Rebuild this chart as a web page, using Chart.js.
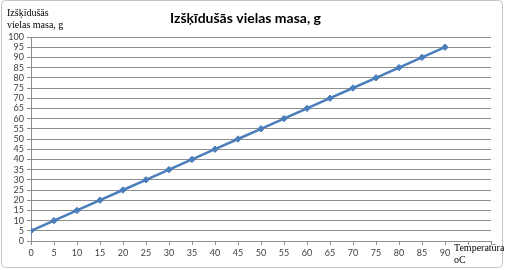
<!DOCTYPE html>
<html>
<head>
<meta charset="utf-8">
<script src="https://cdn.jsdelivr.net/npm/chart.js@4/dist/chart.umd.min.js"></script>
<style>
 html, body { margin: 0; padding: 0; background: #fff; }
 #wrap { width: 506px; height: 270px; position: relative; }
</style>
</head>
<body>
<div id="wrap"><canvas id="massChart"></canvas></div>
<script>
// temperature (oC) and dissolved mass (g)
var temperatures = [0, 5, 10, 15, 20, 25, 30, 35, 40, 45, 50, 55, 60, 65, 70, 75, 80, 85, 90];
var masses = [5, 10, 15, 20, 25, 30, 35, 40, 45, 50, 55, 60, 65, 70, 75, 80, 85, 90, 95];
var chartTitle = 'Izšķīdušās vielas masa, g';
var yTitleLines = ['Izšķīdušās', 'vielas masa, g'];
var xTitleLines = ['Temperatūra', 'oC'];

var lineColor = '#4a7ebb';
var gridColor = '#8e8e8e';
var textColor = '#404040';

// frame + axis titles drawn by hand (Excel puts them where chart.js can't)
var extraText = {
 id: 'extraText',
 beforeDraw: function(chart) {
  var c = chart.ctx;
  c.save();
  c.strokeStyle = '#c4c4c4';
  c.lineWidth = 1;
  c.beginPath();
  c.roundRect(1.5, 0.5, 501, 267, 4);
  c.stroke();
  c.restore();
 },
 afterDraw: function(chart) {
  var c = chart.ctx;
  c.save();
  c.fillStyle = '#000';
  c.font = '10px "Liberation Serif"';
  c.textBaseline = 'alphabetic';
  c.textAlign = 'left';
  c.fillText(yTitleLines[0], 7, 16);
  c.fillText(yTitleLines[1], 7, 28);
  c.fillText(xTitleLines[0], 454, 251);
  c.fillText(xTitleLines[1], 454, 263);
  c.restore();
 }
};

var ctx = document.getElementById('massChart').getContext('2d');
var points = temperatures.map(function(t, i) { return { x: t, y: masses[i] }; });

var chartInstance = new Chart(ctx, {
 type: 'line',
 data: {
  datasets: [{
   label: chartTitle,
   data: points,
   borderColor: lineColor,
   backgroundColor: lineColor,
   borderWidth: 2.5,
   pointStyle: 'rectRot',
   pointRadius: 3.2,
   pointBorderWidth: 1,
   tension: 0
  }]
 },
 options: {
  responsive: true,
  maintainAspectRatio: false,
  animation: false,
  layout: {
   padding: { left: 0, right: 15, top: 0, bottom: 0 }
  },
  plugins: {
   legend: { display: false },
   tooltip: { enabled: false },
   title: {
    display: true,
    text: chartTitle,
    color: '#000',
    font: { family: 'Lato', size: 14, weight: 'bold', lineHeight: 1.2 },
    padding: { top: 10, bottom: 10.2 }
   }
  },
  scales: {
   x: {
    type: 'linear',
    min: 0,
    max: 100,
    afterFit: function(scale) { scale.height = 29; },
    grid: {
     drawOnChartArea: false,
     drawTicks: true,
     tickLength: 4,
     color: gridColor
    },
    border: { color: gridColor },
    ticks: {
     stepSize: 5,
     maxRotation: 0,
     autoSkip: false,
     padding: 3,
     color: textColor,
     font: { family: 'Lato', size: 9 },
     callback: function(v) { return v <= 90 ? v : ''; }
    }
   },
   y: {
    min: 0,
    max: 100,
    afterFit: function(scale) { scale.width = 31; },
    grid: {
     color: gridColor,
     tickLength: 4
    },
    border: { color: gridColor },
    ticks: {
     stepSize: 5,
     autoSkip: false,
     padding: 3,
     color: textColor,
     font: { family: 'Lato', size: 9 }
    }
   }
  }
 },
 plugins: [extraText]
});
</script>
</body>
</html>
